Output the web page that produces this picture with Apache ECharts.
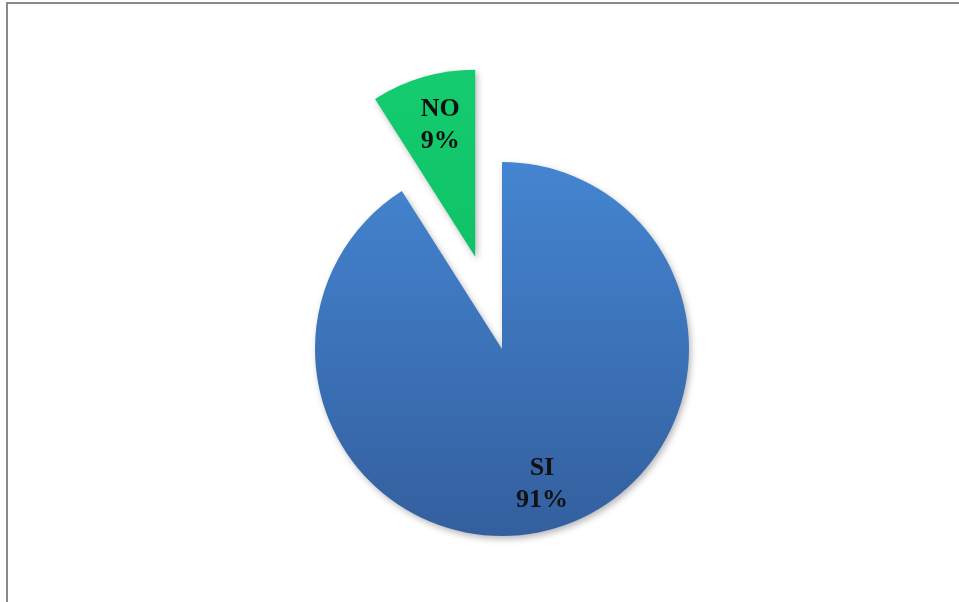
<!DOCTYPE html>
<html>
<head>
<meta charset="utf-8">
<style>
  html, body { margin: 0; padding: 0; background: #fff; }
  #chart { width: 959px; height: 602px; }
</style>
<script src="https://cdn.jsdelivr.net/npm/echarts@6/dist/echarts.min.js"></script>
</head>
<body>
<div id="chart"></div>
<script>
// Answers and their counts (share of respondents)
const categories = ['SI', 'NO'];
const values = [91, 9];

const sliceColors = [
  new echarts.graphic.LinearGradient(0, 0, 0, 1, [
    { offset: 0, color: '#4485d1' },
    { offset: 1, color: '#335f9e' }
  ]),
  new echarts.graphic.LinearGradient(0, 0, 0, 1, [
    { offset: 0, color: '#14cc6f' },
    { offset: 1, color: '#10c267' }
  ])
];
// Push each label outward from the mid-radius spot toward the rim
const labelOffsets = [[13, 43], [-8, -39]];

const chart = echarts.init(document.getElementById('chart'), null, { renderer: 'canvas' });

chart.setOption({
  animation: false,
  backgroundColor: '#ffffff',
  graphic: [{
    type: 'rect',
    silent: true,
    shape: { x: 7, y: 3, width: 1000, height: 700 },
    style: { fill: 'none', stroke: '#8a8a8a', lineWidth: 2 }
  }],
  series: [{
    type: 'pie',
    center: [502, 349],
    radius: 187,
    startAngle: 90,
    clockwise: true,
    selectedMode: 'single',
    selectedOffset: 96,
    avoidLabelOverlap: false,
    emphasis: { disabled: true },
    itemStyle: {
      shadowColor: 'rgba(0,0,0,0.28)',
      shadowBlur: 6,
      shadowOffsetX: 2,
      shadowOffsetY: 3
    },
    label: {
      show: true,
      position: 'inside',
      formatter: '{b}\n{d}%',
      fontFamily: '"Liberation Serif", "DejaVu Serif", serif',
      fontWeight: 'bold',
      fontSize: 26,
      lineHeight: 32,
      color: '#111111',
      align: 'center'
    },
    labelLine: { show: false },
    data: categories.map((name, i) => ({
      name: name,
      value: values[i],
      selected: name === 'NO',
      itemStyle: { color: sliceColors[i] },
      label: { offset: labelOffsets[i] },
      select: { label: { offset: labelOffsets[i] } }
    }))
  }]
});
</script>
</body>
</html>
